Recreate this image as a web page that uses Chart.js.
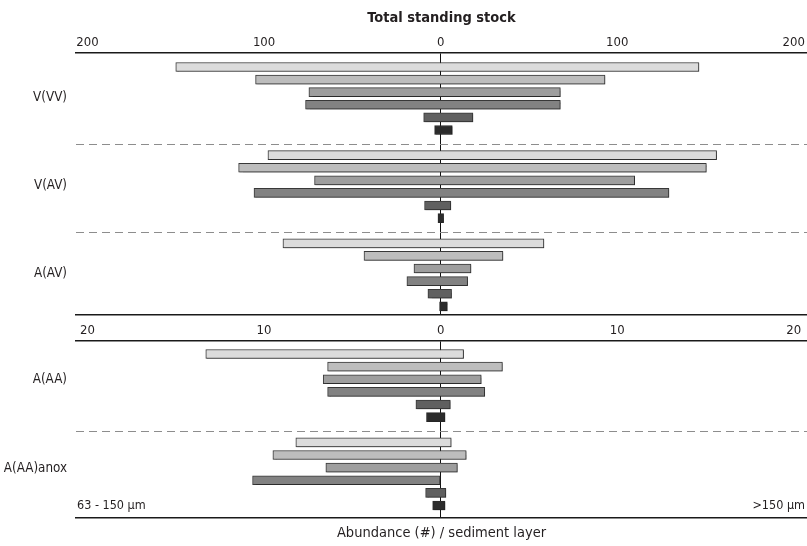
<!DOCTYPE html>
<html>
<head>
<meta charset="utf-8">
<title>Total standing stock</title>
<script src="https://cdn.jsdelivr.net/npm/chart.js@4.4.1/dist/chart.umd.min.js"></script>
<style>
  html, body { margin: 0; padding: 0; background: #fff; }
  #wrap { position: relative; width: 807px; height: 546px; }
  canvas { position: absolute; left: 0; }
  #topPanel { top: 0; }
  #bottomPanel { top: 317px; }
</style>
</head>
<body>
<div id="wrap">
  <canvas id="topPanel" width="807" height="317"></canvas>
  <canvas id="bottomPanel" width="807" height="229"></canvas>
</div>
<script>
// Stations / treatments
const topGroups = ['V(VV)', 'V(AV)', 'A(AV)'];
const bottomGroups = ['A(AA)', 'A(AA)anox'];

// Abundance per sediment layer (top to bottom): 63-150 µm fraction (left) and >150 µm fraction (right)
const vvvFine   = [150, 104.8, 74.6, 76.5, 9.6, 3.4];
const vvvCoarse = [146.3, 93.1, 67.8, 67.8, 18.3, 6.6];
const vavFine   = [97.8, 114.4, 71.4, 105.7, 9.1, 1.5];
const vavCoarse = [156.3, 150.5, 109.9, 129.3, 5.8, 1.7];
const aavFine   = [89.3, 43.4, 15.1, 19.1, 7.2, 0.6];
const aavCoarse = [58.5, 35.3, 17.2, 15.3, 6.2, 3.8];
const aaaFine   = [13.3, 6.4, 6.65, 6.4, 1.4, 0.8];
const aaaCoarse = [1.3, 3.5, 2.3, 2.5, 0.55, 0.25];
const anoxFine   = [8.2, 9.5, 6.5, 10.65, 0.85, 0.45];
const anoxCoarse = [0.6, 1.45, 0.95, 0, 0.3, 0.25];

// Axis tick values (left side shown as absolute numbers)
const topTicks = [-200, -100, 0, 100, 200];
const bottomTicks = [-20, -10, 0, 10, 20];

// ---- styling ----
const FONT = "'Liberation Sans Narrow', 'DejaVu Sans Condensed', 'Open Sans', sans-serif";
const INK = '#231f20';
const layerShades = ['#dcdcdc', '#bdbdbd', '#9e9e9e', '#828282', '#606060', '#2b2b2b'];
const barEdge = '#383838';
const GROUP_STEP = 7;   // six layers plus a one-row gap between groups

Chart.defaults.font.family = FONT;
Chart.defaults.color = INK;

function layerDatasets(fineSets, coarseSets) {
  return layerShades.map((shade, k) => ({
    label: 'Layer ' + (k + 1),
    data: fineSets.map((fine, gi) => ({ y: gi * GROUP_STEP + k, x: [-fine[k], coarseSets[gi][k]] })),
    backgroundColor: shade,
    borderColor: k === layerShades.length - 1 ? shade : barEdge,
    borderWidth: 1,
    borderSkipped: false,
    barThickness: 9,
    grouped: false,
    xAxisID: 'x',
    yAxisID: 'y'
  }));
}

function noPadding(s) {
  s.paddingTop = 0; s.paddingBottom = 0; s.paddingLeft = 0; s.paddingRight = 0;
}

// soft offset shadow under the bars
const barShadow = {
  id: 'barShadow',
  beforeDatasetsDraw(chart) {
    const ctx = chart.ctx;
    ctx.save();
    ctx.shadowColor = 'rgba(0,0,0,0.22)';
    ctx.shadowOffsetX = 1;
    ctx.shadowOffsetY = 1;
    ctx.shadowBlur = 1;
  },
  afterDatasetsDraw(chart) {
    chart.ctx.restore();
  }
};

function panel(canvas, p) {
  const nGroups = p.groups.length;
  const separators = [];
  for (let g = 1; g < nGroups; g++) separators.push(g * GROUP_STEP - 1);

  return new Chart(canvas, {
    type: 'bar',
    data: { datasets: layerDatasets(p.fine, p.coarse) },
    options: {
      indexAxis: 'y',
      responsive: false,
      animation: false,
      devicePixelRatio: 1,
      layout: { padding: 0 },
      plugins: { legend: { display: false }, tooltip: { enabled: false }, title: { display: false } },
      scales: {
        x: {
          type: 'linear',
          position: 'top',
          min: p.xMin, max: p.xMax,
          offset: false,
          z: 1,
          afterBuildTicks: s => { s.ticks = p.ticks.map(v => ({ value: v })); },
          afterFit: s => { s.height = p.topAxisHeight; noPadding(s); },
          ticks: {
            callback: v => Math.abs(v),
            font: { size: 13 },
            color: INK,
            padding: 2.5,
            maxRotation: 0,
            autoSkip: false
          },
          grid: {
            offset: false,
            drawTicks: false,
            lineWidth: 1,
            color: ctx => (ctx.tick && ctx.tick.value === 0) ? '#111' : 'rgba(0,0,0,0)'
          },
          border: { color: '#1a1a1a', width: 1.4 },
          title: p.title ? {
            display: true,
            text: p.title,
            font: { size: 14.5, weight: 'bold' },
            color: INK,
            padding: { top: 9.8, bottom: 0 }
          } : { display: false }
        },
        xEdge: {
          type: 'linear',
          position: 'bottom',
          min: p.xMin, max: p.xMax,
          offset: false,
          afterFit: s => { s.height = p.bottomAxisHeight; noPadding(s); },
          ticks: { display: false },
          grid: { display: false, drawTicks: false, offset: false },
          border: { color: '#1a1a1a', width: 1.4 },
          title: p.axisTitle ? {
            display: true,
            text: p.axisTitle,
            font: { size: 14.5 },
            color: INK,
            padding: { top: 5, bottom: 4.3 }
          } : { display: false }
        },
        y: {
          type: 'linear',
          position: 'left',
          reverse: true,
          offset: false,
          min: p.yMin, max: p.yMax,
          afterBuildTicks: s => { s.ticks = p.groups.map((g, i) => ({ value: i * GROUP_STEP + p.labelRow })); },
          afterFit: s => { s.width = 76; noPadding(s); },
          ticks: {
            callback: (v, i) => p.groups[i],
            font: { size: 13.3 },
            color: INK,
            padding: 9,
            autoSkip: false
          },
          grid: { display: false, drawTicks: false, offset: false },
          border: { display: false }
        },
        ySep: {
          type: 'linear',
          position: 'right',
          reverse: true,
          offset: false,
          min: p.yMin, max: p.yMax,
          afterBuildTicks: s => { s.ticks = separators.map(v => ({ value: v + p.sepShift })); },
          afterFit: s => { s.width = 0; noPadding(s); },
          ticks: { display: false },
          grid: { color: '#8d8d8d', lineWidth: 1, drawTicks: false, offset: false },
          border: { display: false, dash: [8, 5] }
        }
      }
    },
    plugins: [barShadow].concat(p.plugins || [])
  });
}

// size-fraction captions in the lower panel
const fractionLabels = {
  id: 'fractionLabels',
  afterDraw(chart) {
    const { ctx, chartArea: a } = chart;
    ctx.save();
    ctx.font = '12.5px ' + FONT;
    ctx.fillStyle = INK;
    ctx.textBaseline = 'middle';
    ctx.textAlign = 'left';
    ctx.fillText('63 - 150 µm', a.left + 1, a.bottom - 12);
    ctx.textAlign = 'right';
    ctx.fillText('>150 µm', a.right - 2, a.bottom - 12);
    ctx.restore();
  }
};

panel(document.getElementById('topPanel'), {
  groups: topGroups,
  fine: [vvvFine, vavFine, aavFine],
  coarse: [vvvCoarse, vavCoarse, aavCoarse],
  ticks: topTicks,
  xMin: -206.5, xMax: 207.5,
  yMin: -1.11, yMax: 19.69,
  labelRow: 2.4,
  sepShift: 0.12,
  topAxisHeight: 53,
  bottomAxisHeight: 2,
  title: 'Total standing stock'
});

panel(document.getElementById('bottomPanel'), {
  groups: bottomGroups,
  fine: [aaaFine, anoxFine],
  coarse: [aaaCoarse, anoxCoarse],
  ticks: bottomTicks,
  xMin: -20.65, xMax: 20.75,
  yMin: -1.03, yMax: 12.99,
  labelRow: 2.05,
  sepShift: 0.1,
  topAxisHeight: 24,
  bottomAxisHeight: 28,
  axisTitle: 'Abundance (#) / sediment layer',
  plugins: [fractionLabels]
});
</script>
</body>
</html>
